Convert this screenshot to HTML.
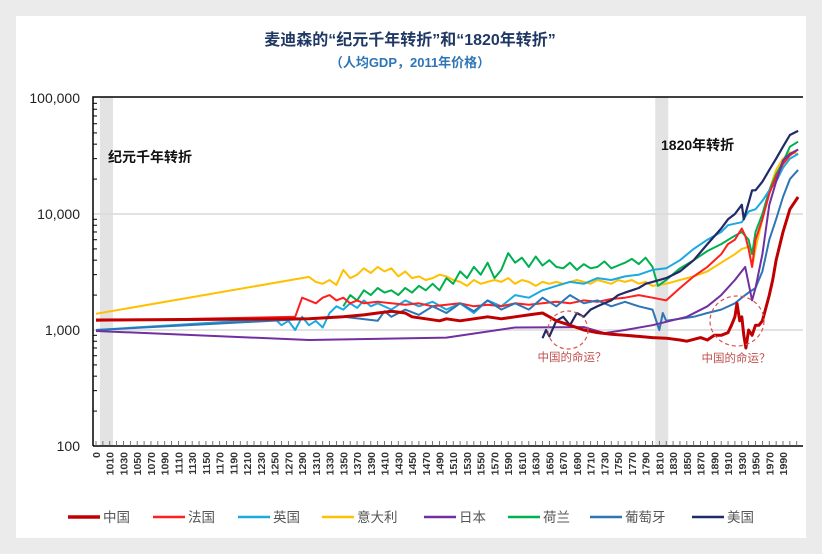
<!DOCTYPE html>
<html><head><meta charset="utf-8"><style>
html,body{margin:0;padding:0;background:#ebebeb;}
svg{display:block;font-family:"Liberation Sans","Noto Sans CJK SC",sans-serif;}
</style></head><body>
<svg id="c" width="822" height="554" xmlns="http://www.w3.org/2000/svg">
<rect x="16" y="16" width="790" height="522" fill="#fff"/>
<text x="410" y="45" text-anchor="middle" font-size="16" font-weight="bold" fill="#1f3864">麦迪森的“纪元千年转折”和“1820年转折”</text>
<text x="410" y="67" text-anchor="middle" font-size="13" font-weight="bold" fill="#2e75b6">（人均GDP，2011年价格）</text>
<g id="plot"></g>
</svg>
<script>
const categoryLabels=[0];for(let y=1010;y<=1990;y+=20)categoryLabels.push(y);
const yTicks=[100,1000,10000,100000];
const yTickLabels=["100","1,000","10,000","100,000"];
const chinaYears=[0,1300,1350,1380,1400,1420,1440,1450,1470,1490,1500,1520,1540,1560,1580,1600,1620,1640,1650,1660,1680,1700,1720,1740,1760,1780,1800,1820,1840,1850,1870,1880,1890,1900,1910,1915,1920,1923,1927,1930,1933,1936,1940,1945,1950,1955,1960,1970,1975,1980,1990,2000,2012];
const chinaVals=[1220,1250,1300,1350,1400,1450,1400,1300,1250,1200,1250,1200,1250,1300,1250,1300,1350,1400,1300,1200,1100,1000,950,920,900,880,860,850,820,800,860,820,900,900,950,1100,1300,1700,1200,1300,900,700,1000,900,1100,1100,1200,2000,2700,4000,7000,11000,14000];
const franceYears=[0,1280,1290,1300,1310,1320,1330,1340,1350,1360,1370,1380,1400,1420,1440,1460,1480,1500,1520,1540,1560,1580,1600,1620,1640,1660,1680,1700,1720,1740,1760,1780,1800,1820,1840,1860,1880,1900,1910,1920,1930,1935,1940,1945,1950,1960,1970,1980,1990,2000,2012];
const franceVals=[1200,1300,1900,1800,1700,1900,2000,1800,1900,1700,1800,1700,1750,1700,1650,1700,1600,1650,1700,1600,1650,1600,1700,1650,1700,1750,1700,1800,1750,1850,1900,2000,1900,1800,2300,2900,3500,4500,5500,6000,7500,6500,5000,3500,6000,9000,15000,21000,27000,32000,36000];
const ukYears=[0,1250,1260,1270,1280,1290,1300,1310,1320,1330,1340,1350,1360,1370,1380,1390,1400,1420,1440,1460,1480,1500,1520,1540,1560,1580,1600,1620,1640,1660,1680,1700,1720,1740,1760,1780,1800,1820,1840,1860,1880,1900,1910,1930,1940,1950,1960,1970,1980,1990,2000,2012];
const ukVals=[1000,1250,1100,1200,1000,1300,1100,1200,1050,1400,1600,1500,1700,1550,1800,1600,1700,1500,1800,1600,1750,1500,1700,1400,1800,1600,2000,1900,2200,2400,2600,2500,2800,2700,2900,3000,3300,3400,4000,5000,6000,7000,8000,8500,10500,11000,13000,16000,19000,25000,30000,33000];
const italyYears=[0,1300,1310,1320,1330,1340,1350,1360,1370,1380,1390,1400,1410,1420,1430,1440,1450,1460,1470,1480,1490,1500,1510,1520,1530,1540,1550,1560,1570,1580,1590,1600,1610,1620,1630,1640,1650,1660,1670,1680,1690,1700,1710,1720,1730,1740,1750,1760,1770,1780,1790,1800,1820,1840,1860,1880,1900,1920,1930,1940,1945,1950,1960,1970,1980,1990,2000,2012];
const italyVals=[1380,2870,2600,2500,2700,2450,3300,2800,3000,3400,3100,3500,3200,3400,2900,3200,2800,2900,2700,2800,3000,2900,2700,2600,2400,2700,2500,2600,2700,2600,2800,2500,2700,2600,2400,2600,2500,2600,2500,2600,2700,2600,2500,2700,2600,2500,2700,2600,2700,2500,2600,2400,2500,2700,2900,3200,3800,4500,5000,5200,3500,5000,9000,16000,24000,30000,34000,33000];
const japanYears=[0,1300,1500,1600,1700,1730,1760,1800,1850,1880,1900,1920,1935,1945,1950,1960,1970,1980,1990,2000,2012];
const japanVals=[980,820,860,1050,1060,940,1000,1100,1300,1600,2000,2700,3500,1800,2300,4500,12000,19000,29000,33000,36000];
const nlYears=[1350,1360,1370,1380,1390,1400,1410,1420,1430,1440,1450,1460,1470,1480,1490,1500,1510,1520,1530,1540,1550,1560,1570,1580,1590,1600,1610,1620,1630,1640,1650,1660,1670,1680,1690,1700,1710,1720,1730,1740,1750,1760,1770,1780,1790,1800,1808,1820,1840,1860,1880,1900,1920,1930,1940,1945,1950,1960,1970,1980,1990,2000,2012];
const nlVals=[1600,2000,1800,2200,2000,2300,2100,2200,2000,2300,2100,2400,2200,2500,2200,2800,2500,3200,2800,3500,3000,3800,2800,3300,4600,3800,4200,3500,4300,3600,4000,3500,3400,3800,3300,3700,3400,3500,3900,3400,3600,3800,4100,3700,4200,3500,2400,2700,3400,4000,4800,5500,6500,7000,6000,4500,7000,10000,16000,22000,28000,38000,42000];
const portugalYears=[0,1300,1350,1400,1410,1420,1440,1460,1480,1500,1520,1540,1560,1580,1600,1620,1640,1660,1680,1700,1720,1740,1760,1780,1800,1810,1815,1820,1840,1860,1880,1900,1920,1930,1940,1950,1960,1970,1980,1990,2000,2012];
const portugalVals=[1000,1250,1300,1200,1450,1300,1500,1350,1600,1400,1700,1450,1800,1500,1700,1500,1900,1600,2000,1700,1800,1600,1750,1600,1500,1000,1400,1200,1250,1300,1400,1500,1700,1900,2100,2300,3200,6000,9000,14000,20000,24000];
const usaYears=[1640,1645,1650,1660,1670,1680,1690,1700,1710,1720,1730,1740,1750,1760,1770,1780,1790,1800,1820,1840,1860,1880,1900,1910,1920,1930,1933,1940,1945,1950,1960,1970,1980,1990,2000,2012];
const usaVals=[850,1000,880,1200,1300,1100,1400,1300,1500,1600,1700,1800,2000,2100,2200,2300,2500,2600,2800,3200,4000,5500,7500,9000,10000,12000,9000,12500,16000,16000,19000,24000,30000,38000,48000,52000];

const NS="http://www.w3.org/2000/svg";
const plot=document.getElementById('plot');
const L=93,R=803,T=97,B=446;
function xs(yr){return yr<1010?96+yr/1010*13.74:109.74+(yr-1010)/20*13.74;}
function ys(v){return 330-(Math.log10(v)-3)*116;}
function mk(tag,attrs){const e=document.createElementNS(NS,tag);for(const k in attrs)e.setAttribute(k,attrs[k]);plot.appendChild(e);return e;}

let e;
e=mk('rect',{x:xs(0)+4,y:T,width:13,height:B-T,fill:'#e3e3e3'});


e=mk('rect',{x:xs(1804),y:T,width:xs(1823)-xs(1804),height:B-T,fill:'#e3e3e3'});


yTicks.forEach((v,i)=>{
  const y=ys(v);
  if(i>0&&i<3){e=mk('line',{x1:L,x2:R,y1:y,y2:y,stroke:'#d9d9d9','stroke-width':1.5});
  
  }
  e=mk('text',{x:80,y:y+5,'text-anchor':'end','font-size':14,fill:'#222'});
  e.textContent=yTickLabels[i];
  
  
  if(i<3){for(let m=2;m<=9;m++){const yy=ys(v*m);
    e=mk('line',{x1:L,x2:L+4,y1:yy,y2:yy,stroke:'#000','stroke-width':1});
    
    }}
});
e=mk('path',{d:`M${L},${B}V${T}H${R}`,fill:'none',stroke:'#000','stroke-width':1.5});


e=mk('line',{x1:L,x2:R,y1:B,y2:B,stroke:'#000','stroke-width':1.5});


for(let k=0;k<=102;k++){const x=96+k*6.87;
  e=mk('line',{x1:x,x2:x,y1:B,y2:B-5,stroke:'#555','stroke-width':0.8});
  
  }
categoryLabels.forEach(c=>{const x=xs(c)+4;
  e=mk('text',{x:0,y:0,transform:`translate(${x},452) rotate(-90)`,'text-anchor':'end','font-size':10.5,'font-weight':'bold',fill:'#333'});
  e.textContent=String(c);
  
  });

const series=[
 ['italy',italyYears,italyVals,'#ffc000',2],
 ['netherlands',nlYears,nlVals,'#00b050',2],
 ['uk',ukYears,ukVals,'#1ba9e1',2],
 ['france',franceYears,franceVals,'#ff1f1f',2],
 ['portugal',portugalYears,portugalVals,'#2e75b6',2],
 ['japan',japanYears,japanVals,'#7030a0',2],
 ['usa',usaYears,usaVals,'#1f2a66',2.2],
 ['china',chinaYears,chinaVals,'#c00000',3]];
series.forEach(s=>{
  const d=s[1].map((yr,i)=>(i?'L':'M')+xs(yr).toFixed(1)+','+ys(s[2][i]).toFixed(1)).join('');
  e=mk('path',{d:d,fill:'none',stroke:s[3],'stroke-width':s[4],'stroke-linejoin':'round'});
  
  });

e=mk('text',{x:108,y:162,'font-size':14,'font-weight':'bold',fill:'#111'});e.textContent='纪元千年转折';


e=mk('text',{x:661,y:150,'font-size':14,'font-weight':'bold',fill:'#111'});e.textContent='1820年转折';


e=mk('ellipse',{cx:568,cy:330,rx:20,ry:19,fill:'none',stroke:'#d9534f','stroke-width':1.2,'stroke-dasharray':'4,3'});


e=mk('ellipse',{cx:737,cy:321,rx:27,ry:25,fill:'none',stroke:'#d9534f','stroke-width':1.2,'stroke-dasharray':'4,3'});


e=mk('text',{x:572,y:361,'text-anchor':'middle','font-size':11.5,fill:'#c0504d'});e.textContent='中国的命运？';


e=mk('text',{x:736,y:362,'text-anchor':'middle','font-size':11.5,fill:'#c0504d'});e.textContent='中国的命运？';



const legendNames=['中国','法国','英国','意大利','日本','荷兰','葡萄牙','美国'];
const legendColors=['#c00000','#ff1f1f','#1ba9e1','#ffc000','#7030a0','#00b050','#2e75b6','#1f2a66'];
const legendX=[68,153,238,322,424,508,590,692];
legendNames.forEach((n,i)=>{
  e=mk('line',{x1:legendX[i],x2:legendX[i]+32,y1:517,y2:517,stroke:legendColors[i],'stroke-width':i?2.5:3.5});
  
  
  e=mk('text',{x:legendX[i]+35,y:522,'font-size':13.5,fill:'#555'});e.textContent=n;
  
  });
</script>
</body></html>
